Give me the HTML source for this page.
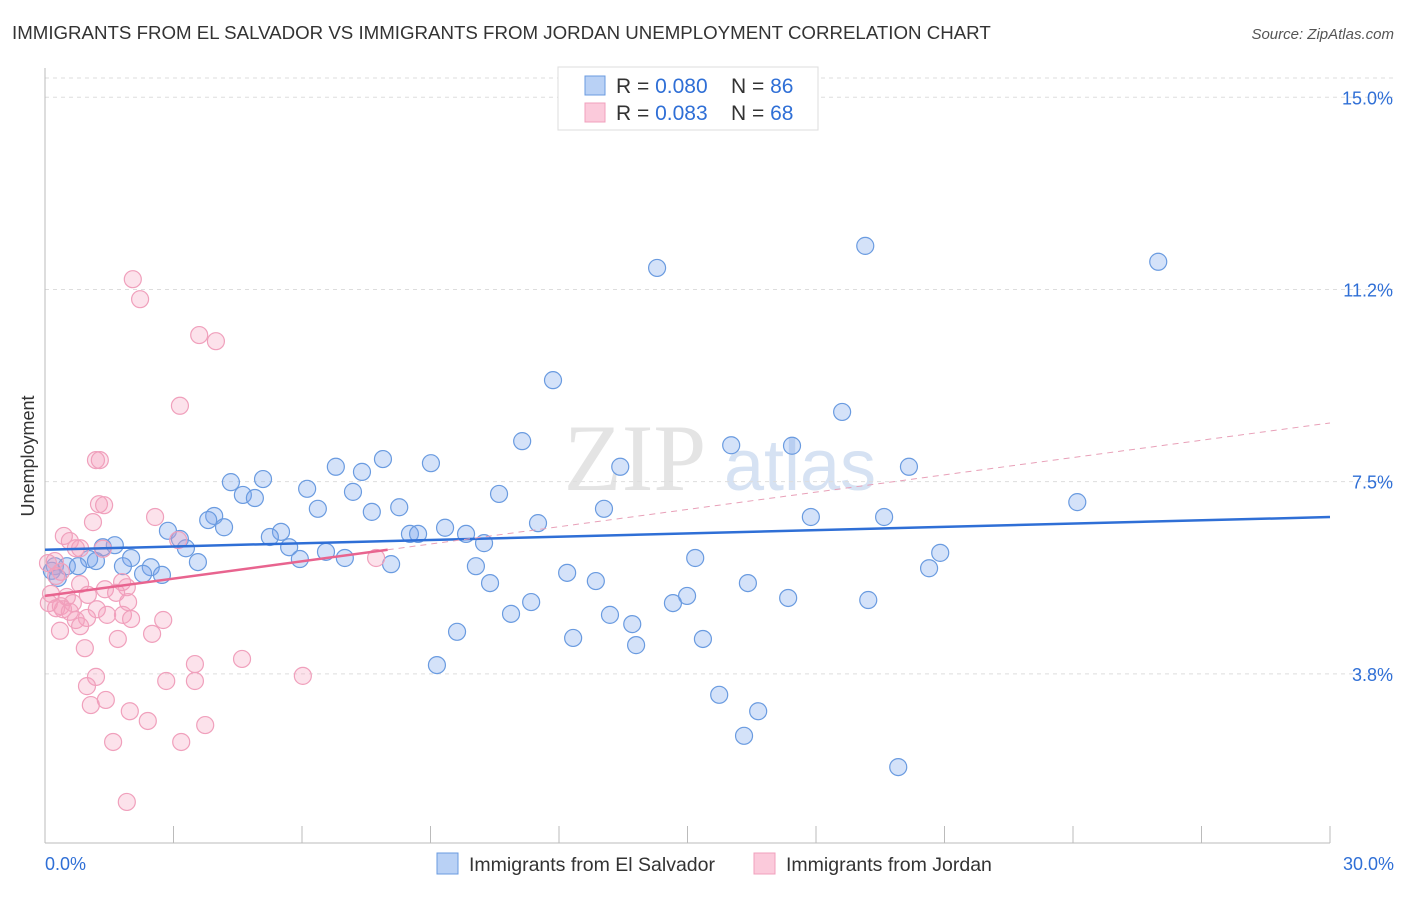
<!DOCTYPE html>
<html><head><meta charset="utf-8"><style>
body{margin:0;background:#fff;font-family:"Liberation Sans",sans-serif;}
</style></head><body>
<svg id="chart" width="1406" height="892" xmlns="http://www.w3.org/2000/svg">
<text x="12" y="39" font-size="18.7" fill="#333">IMMIGRANTS FROM EL SALVADOR VS IMMIGRANTS FROM JORDAN UNEMPLOYMENT CORRELATION CHART</text>
<text x="1394" y="39" font-size="15" fill="#555" text-anchor="end" font-style="italic">Source: ZipAtlas.com</text>
<text x="635" y="490" font-size="95" fill="#e4e4e4" font-family="Liberation Serif,serif" text-anchor="middle">ZIP</text>
<text x="800" y="490" font-size="72" fill="#d6e2f3" text-anchor="middle">atlas</text>
<text x="34" y="456" font-size="18" fill="#333" transform="rotate(-90 34 456)" text-anchor="middle">Unemployment</text>
<g id="grid"></g><g id="axes"></g><g id="marks"></g>
<g>
<rect x="558" y="67" width="260" height="63" fill="#fff" stroke="#ddd"/>
<rect x="585" y="76" width="20" height="19" fill="#b9d1f5" stroke="#6a9be0"/>
<rect x="585" y="103" width="20" height="19" fill="#fbcadb" stroke="#f0a0bc"/>
<text x="616" y="93" font-size="21" fill="#333">R = <tspan fill="#2f6fd6">0.080</tspan><tspan x="731">N = </tspan><tspan fill="#2f6fd6">86</tspan></text>
<text x="616" y="120" font-size="21" fill="#333">R = <tspan fill="#2f6fd6">0.083</tspan><tspan x="731">N = </tspan><tspan fill="#2f6fd6">68</tspan></text>
</g>
<g>
<rect x="437" y="853" width="21" height="21" fill="#b9d1f5" stroke="#6a9be0"/>
<text x="469" y="871" font-size="19.5" fill="#333">Immigrants from El Salvador</text>
<rect x="754" y="853" width="21" height="21" fill="#fbcadb" stroke="#f0a0bc"/>
<text x="786" y="871" font-size="19.5" fill="#333">Immigrants from Jordan</text>
</g>
<text x="45" y="870" font-size="18" fill="#2f6fd6">0.0%</text>
<text x="1394" y="870" font-size="18" fill="#2f6fd6" text-anchor="end">30.0%</text>
</svg>
<script>
const yTicks=[15,11.25,7.5,3.75];
const yTickLabels=["15.0%","11.2%","7.5%","3.8%"];
const blueX=[14.29,19.15,25.99,11.86,18.61,11.14,16.02,17.44,20.17,13.43,24.10,7.89,9.01,6.79,7.40,5.09,4.34,6.12,7.19,10.60,4.62,4.90,8.27,6.37,7.63,13.05,17.88,19.59,3.95,3.81,4.18,11.51,2.87,5.51,5.25,9.34,8.52,8.71,9.83,3.15,5.70,10.25,3.29,6.56,7.00,5.95,3.57,15.18,20.90,20.64,8.08,10.06,2.01,1.63,1.35,1.03,1.19,0.51,0.77,0.23,0.16,0.30,1.82,2.47,2.29,2.73,12.19,12.86,10.39,16.41,14.99,14.66,11.35,17.35,19.22,10.88,13.19,13.71,9.62,12.33,13.80,15.36,9.15,15.74,16.65,16.32,19.92];
const blueY=[11.67,12.10,11.79,9.48,8.86,8.29,8.21,8.20,7.79,7.79,7.10,7.94,7.86,7.79,7.69,7.55,7.49,7.36,7.30,7.26,7.24,7.18,7.00,6.97,6.91,6.97,6.81,6.81,6.83,6.75,6.61,6.69,6.54,6.52,6.42,6.60,6.48,6.48,6.48,6.38,6.22,6.30,6.20,6.13,6.01,5.99,5.93,6.01,6.11,5.81,5.89,5.85,6.01,6.26,6.22,5.99,5.95,5.85,5.85,5.85,5.76,5.62,5.85,5.83,5.70,5.68,5.72,5.56,5.52,5.52,5.27,5.13,5.15,5.23,5.19,4.92,4.90,4.72,4.57,4.45,4.31,4.43,3.92,3.34,3.02,2.54,1.93];
const pinkX=[2.05,2.22,3.60,3.99,3.15,1.19,1.28,1.26,1.38,1.12,2.57,0.44,0.58,3.11,0.82,1.35,0.72,0.23,0.07,0.37,0.26,0.82,1.80,1.91,1.40,0.14,0.51,1.66,1.00,0.09,0.37,0.65,1.94,0.26,0.42,1.21,0.58,1.45,1.82,0.98,2.01,0.72,0.82,2.76,0.35,2.50,1.70,0.93,4.60,3.50,1.19,2.83,3.50,6.02,7.73,0.98,1.42,1.07,1.98,2.40,3.74,1.59,3.18,1.91];
const pinkY=[11.45,11.06,10.36,10.24,8.98,7.92,7.92,7.06,7.04,6.71,6.81,6.44,6.34,6.36,6.20,6.19,6.20,5.95,5.91,5.74,5.66,5.50,5.54,5.44,5.40,5.31,5.25,5.33,5.29,5.13,5.07,5.13,5.15,5.03,5.01,5.01,4.96,4.90,4.90,4.84,4.82,4.80,4.68,4.80,4.59,4.53,4.43,4.25,4.04,3.94,3.69,3.61,3.61,3.71,6.01,3.51,3.24,3.14,3.02,2.83,2.75,2.42,2.42,1.25];
const blueTrend=[6.17,0.0213];
const pinkTrend=[5.27,0.1125];
const pinkSolidEnd=8;
const xMax=30;
(function(){
const NS="http://www.w3.org/2000/svg";
const sx=v=>45+v*(1285/30);
const sy=v=>866-v*51.25;
function mk(tag,attrs,parent){const e=document.createElementNS(NS,tag);for(const k in attrs)e.setAttribute(k,attrs[k]);parent.appendChild(e);return e;}
const grid=document.getElementById('grid'),axes=document.getElementById('axes'),marks=document.getElementById('marks');
const topLine=mk('line',{x1:45,x2:1394,y1:78,y2:78,stroke:'#ddd','stroke-dasharray':'4,4'},grid);


yTicks.forEach((t,i)=>{
 const l=mk('line',{x1:45,x2:1394,y1:sy(t),y2:sy(t),stroke:'#ddd','stroke-dasharray':'4,4'},grid);
 
 
 const tx=mk('text',{x:1393,y:sy(t)+7,'font-size':18,fill:'#2f6fd6','text-anchor':'end'},grid);
 tx.textContent=yTickLabels[i];
 
 
});
const ya=mk('line',{x1:45,x2:45,y1:68,y2:843,stroke:'#bbb'},axes);


const xa=mk('line',{x1:45,x2:1330,y1:843,y2:843,stroke:'#bbb'},axes);


for(let v=0;v<=xMax;v+=3){
 const t=mk('line',{x1:sx(v),x2:sx(v),y1:826,y2:843,stroke:'#bbb'},axes);
 
 
}
blueX.forEach((x,i)=>{
 const c=mk('circle',{cx:sx(x),cy:sy(blueY[i]),r:8.5,fill:'rgba(120,165,235,0.32)',stroke:'#6a9be0','stroke-width':1.2},marks);
 
 
});
pinkX.forEach((x,i)=>{
 const c=mk('circle',{cx:sx(x),cy:sy(pinkY[i]),r:8.5,fill:'rgba(245,160,190,0.3)',stroke:'#f0a0bc','stroke-width':1.2},marks);
 
 
});
const bl=mk('line',{x1:sx(0),y1:sy(blueTrend[0]),x2:sx(xMax),y2:sy(blueTrend[0]+blueTrend[1]*xMax),stroke:'#2f6fd6','stroke-width':2.5},marks);


const pd=mk('line',{x1:sx(pinkSolidEnd),y1:sy(pinkTrend[0]+pinkTrend[1]*pinkSolidEnd),x2:sx(xMax),y2:sy(pinkTrend[0]+pinkTrend[1]*xMax),stroke:'#e8a0b8','stroke-width':1,'stroke-dasharray':'6,5'},marks);


const pl=mk('line',{x1:sx(0),y1:sy(pinkTrend[0]),x2:sx(pinkSolidEnd),y2:sy(pinkTrend[0]+pinkTrend[1]*pinkSolidEnd),stroke:'#e8648f','stroke-width':2.5},marks);


})();
</script>
</body></html>
